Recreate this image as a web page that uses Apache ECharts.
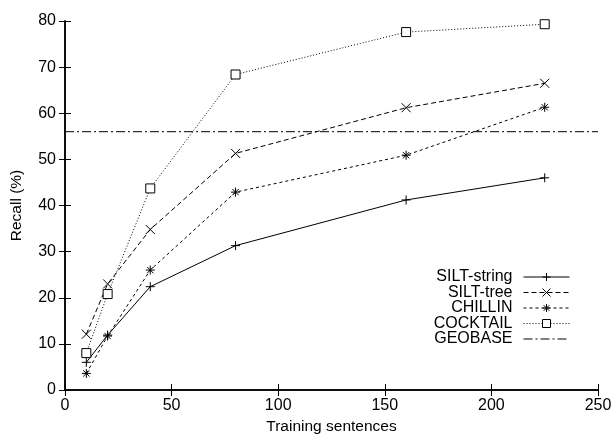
<!DOCTYPE html>
<html><head><meta charset="utf-8">
<script src="https://cdn.jsdelivr.net/npm/echarts@6/dist/echarts.min.js"></script>
<style>html,body{margin:0;padding:0;background:#fff}#c{width:613px;height:437px}</style>
</head><body><div id="c"></div>
<script>
const trainingSizes = [10, 20, 40, 80, 160, 225];
const siltString = [6.0, 11.9, 22.4, 31.3, 41.2, 46.0];
const siltTree = [12.1, 23.0, 34.8, 51.3, 61.2, 66.5];
const chillin = [3.6, 11.7, 26.0, 42.9, 50.9, 61.3];
const cocktail = [8.0, 20.8, 43.7, 68.4, 77.6, 79.3];
const geobaseX = [0, 250];
const geobaseY = [56.0, 56.0];
const seriesNames = ['SILT-string', 'SILT-tree', 'CHILLIN', 'COCKTAIL', 'GEOBASE'];
const xTicks = [0, 50, 100, 150, 200, 250];
const yTicks = [0, 10, 20, 30, 40, 50, 60, 70, 80];

const FONT = 'Liberation Sans';
const pairs = (xs, ys) => xs.map((x, i) => [x, ys[i]]);
const PLUS = 'path://M0,-1L0,1M-1,0L1,0';
const CROSS = 'path://M-1,-1L1,1M-1,1L1,-1';
const STAR = 'path://M0,-1L0,1M-1,0L1,0M-0.7,-0.7L0.7,0.7M-0.7,0.7L0.7,-0.7';

function mk(name, data, symbol, size, dash, fillColor) {
  return {
    name, type: 'line', data, symbol, symbolSize: size,
    showSymbol: symbol !== 'none',
    lineStyle: { color: '#000', width: 1, type: dash },
    itemStyle: { color: fillColor || 'rgba(0,0,0,0)', borderColor: '#000', borderWidth: 1 },
    emphasis: { disabled: true },
    z: 3
  };
}

const series = [
  mk(seriesNames[0], pairs(trainingSizes, siltString), PLUS, 9, 'solid'),
  mk(seriesNames[1], pairs(trainingSizes, siltTree), CROSS, 9, [5, 3]),
  mk(seriesNames[2], pairs(trainingSizes, chillin), STAR, 9, [3, 3]),
  mk(seriesNames[3], pairs(trainingSizes, cocktail), 'rect', 9, [1, 2], '#fff'),
  mk(seriesNames[4], pairs(geobaseX, geobaseY), 'none', 0, [9, 3, 2, 3])
];

const legendTops = [269, 284.5, 300, 315.5, 331];
const legends = seriesNames.map((n, i) => ({
  data: [n], orient: 'vertical', right: 43, top: legendTops[i], align: 'right',
  padding: 0, itemWidth: 46, itemHeight: 10, itemGap: 0, selectedMode: false,
  lineStyle: { width: 1 },
  itemStyle: i === 4 ? { color: 'rgba(0,0,0,0)', borderWidth: 0, opacity: 0 } : { borderWidth: 1 },
  textStyle: { fontFamily: FONT, fontSize: 16, color: '#000', padding: [0, 6, 0, 0] }
}));

const axisCommon = {
  type: 'value',
  axisLine: { show: true, lineStyle: { color: '#000', width: 1.5 } },
  axisTick: { show: true, inside: true, length: 6, lineStyle: { color: '#000', width: 1 } },
  splitLine: { show: false }
};

const chart = echarts.init(document.getElementById('c'));
chart.setOption({
  animation: false,
  backgroundColor: '#fff',
  grid: { left: 65, right: 15, top: 21, bottom: 47, outerBoundsMode: 'none', containLabel: false },
  legend: legends,
  xAxis: [
    Object.assign({}, axisCommon, {
      min: xTicks[0], max: xTicks[xTicks.length - 1], interval: 50, position: 'bottom',
      name: 'Training sentences', nameLocation: 'middle', nameGap: 28,
      nameTextStyle: { fontFamily: FONT, fontSize: 15.5, color: '#000' },
      axisLabel: { fontFamily: FONT, fontSize: 16, color: '#000', margin: 8 }
    }),
    Object.assign({}, axisCommon, {
      min: xTicks[0], max: xTicks[xTicks.length - 1], interval: 50, position: 'top',
      axisLabel: { show: false }
    })
  ],
  yAxis: [
    Object.assign({}, axisCommon, {
      min: yTicks[0], max: yTicks[yTicks.length - 1], interval: 10, position: 'left',
      name: 'Recall (%)', nameLocation: 'middle', nameGap: 40,
      nameTextStyle: { fontFamily: FONT, fontSize: 15.5, color: '#000' },
      axisLabel: { fontFamily: FONT, fontSize: 16, color: '#000', margin: 9 }
    }),
    Object.assign({}, axisCommon, {
      min: yTicks[0], max: yTicks[yTicks.length - 1], interval: 10, position: 'right',
      axisLabel: { show: false }
    })
  ],
  series
});
</script></body></html>
